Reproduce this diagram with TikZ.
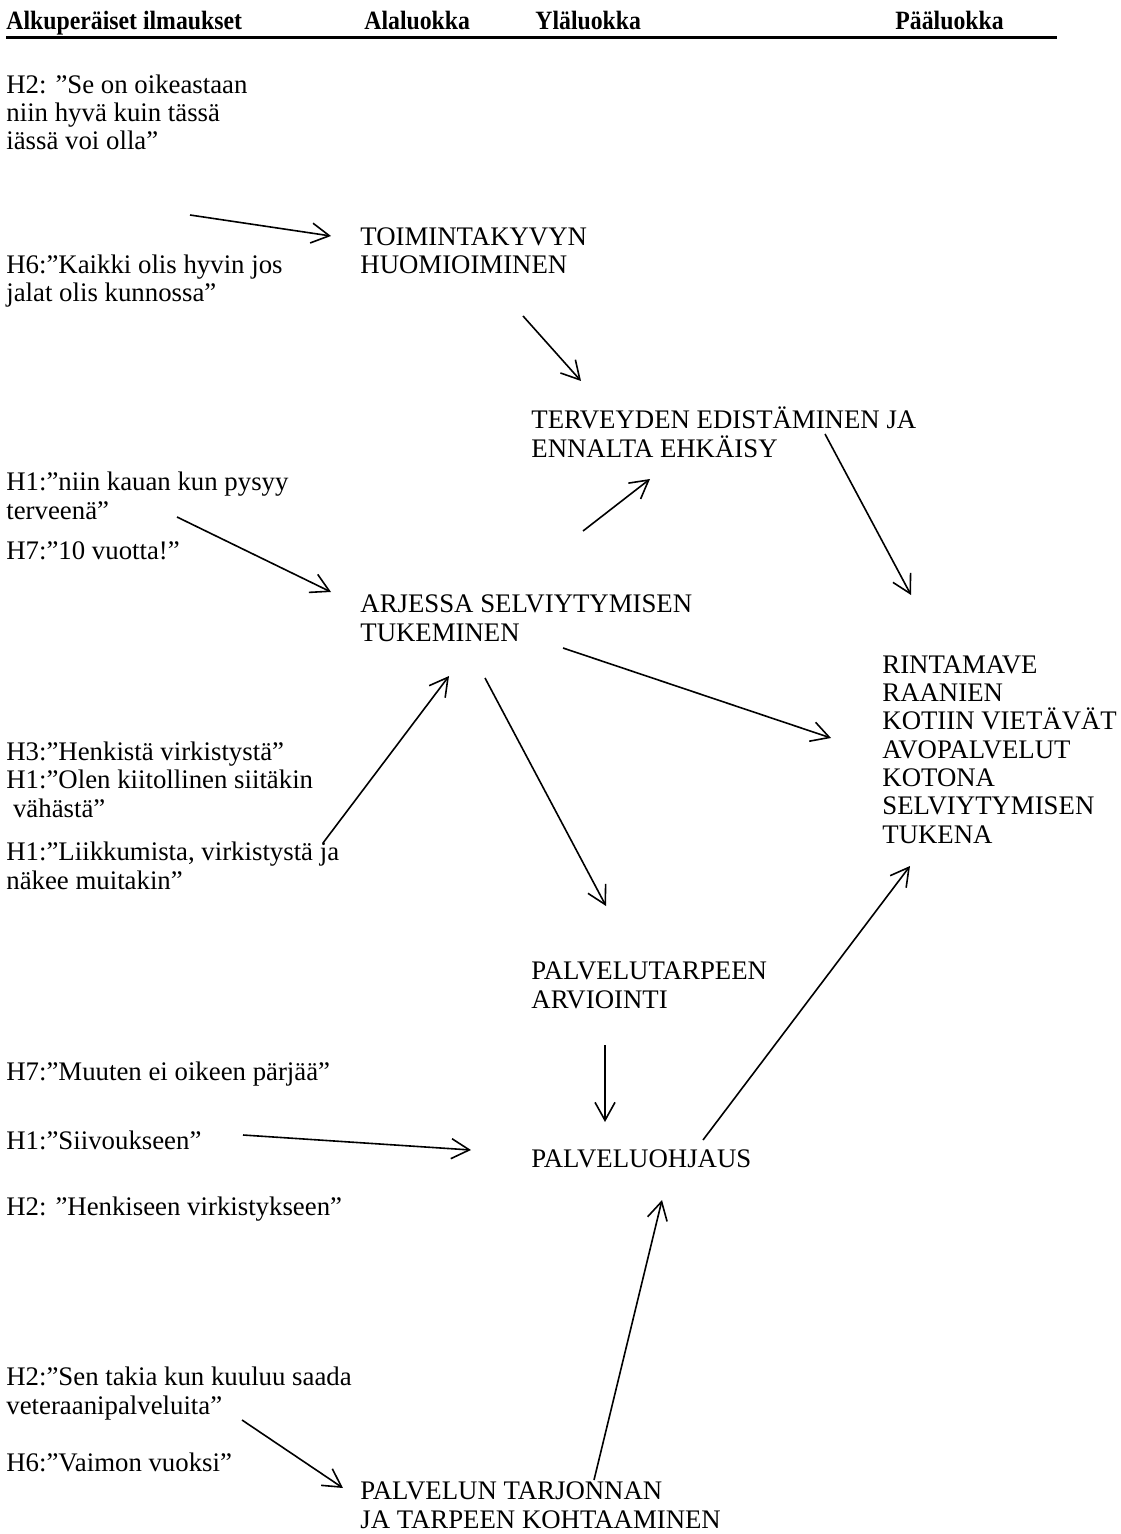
\documentclass[tikz,border=0pt]{standalone}
\usepackage{fontspec}
\setmainfont{Liberation Serif}
\newfontfamily\tekstifont{Liberation Serif}
\newfontfamily\otsikkofont[FakeStretch=0.9]{Liberation Serif}
\usetikzlibrary{arrows.meta}
\tikzstyle{otsikko} = [anchor=base west, inner sep=0pt, font=\otsikkofont\fontsize{13.2}{14.15}\selectfont\bfseries]
\tikzstyle{sitaatti} = [anchor=base west, inner sep=0pt, align=left]
\tikzstyle{luokka} = [anchor=base west, inner sep=0pt, align=left]
\tikzstyle{arrow} = [line width=0.8pt, -{Straight Barb[length=9pt,width=10pt]}]

\begin{document}
\begin{tikzpicture}[x=0.5pt, y=-0.5pt, font=\tekstifont\fontsize{13.4}{14.15}\selectfont]
	\useasboundingbox (0,0) rectangle (1120,1534);
	% otsikot (base = viimeisen rivin perusviiva)
	\node (alk) [otsikko] at (6,30) {Alkuperäiset ilmaukset};
	\node (ala) [otsikko] at (364,30) {Alaluokka};
	\node (yla) [otsikko] at (535,30) {Yläluokka};
	\node (paa) [otsikko] at (895,30) {Pääluokka};
	\draw [line width=1.5pt] (6,38) -- (1057,38);
	% alkuperäiset ilmaukset
	\node (q1) [sitaatti] at (6,150) {H2: ”Se on oikeastaan\\niin hyvä kuin tässä\\iässä voi olla”};
	\node (q2) [sitaatti] at (6,302) {H6:”Kaikki olis hyvin jos\\jalat olis kunnossa”};
	\node (q3) [sitaatti] at (6,519) {H1:”niin kauan kun pysyy\\terveenä”};
	\node (q4) [sitaatti] at (6,559) {H7:”10 vuotta!”};
	\node (q5) [sitaatti] at (6,817) {H3:”Henkistä virkistystä”\\H1:”Olen kiitollinen siitäkin\\\hspace*{0.25em}vähästä”};
	\node (q6) [sitaatti] at (6,889) {H1:”Liikkumista, virkistystä ja\\näkee muitakin”};
	\node (q7) [sitaatti] at (6,1080) {H7:”Muuten ei oikeen pärjää”};
	\node (q8) [sitaatti] at (6,1149) {H1:”Siivoukseen”};
	\node (q9) [sitaatti] at (6,1215) {H2: ”Henkiseen virkistykseen”};
	\node (q10) [sitaatti] at (6,1414) {H2:”Sen takia kun kuuluu saada\\veteraanipalveluita”};
	\node (q11) [sitaatti] at (6,1471) {H6:”Vaimon vuoksi”};
	% luokat
	\node (toim) [luokka] at (360,274) {TOIMINTAKYVYN\\HUOMIOIMINEN};
	\node (terv) [luokka] at (531,457) {TERVEYDEN EDISTÄMINEN JA\\ENNALTA EHKÄISY};
	\node (arj) [luokka] at (360,641) {ARJESSA SELVIYTYMISEN\\TUKEMINEN};
	\node (rint) [luokka] at (882,843) {RINTAMAVE\\RAANIEN\\KOTIIN VIETÄVÄT\\AVOPALVELUT\\KOTONA\\SELVIYTYMISEN\\TUKENA};
	\node (parv) [luokka] at (531,1008) {PALVELUTARPEEN\\ARVIOINTI};
	\node (pohj) [luokka] at (531,1167) {PALVELUOHJAUS};
	\node (ptar) [luokka] at (360,1528) {PALVELUN TARJONNAN\\JA TARPEEN KOHTAAMINEN};
	% nuolten päät
	\coordinate (q2-out) at (190,215);
	\coordinate (toim-in) at (331,236);
	\coordinate (toim-out) at (523,316);
	\coordinate (terv-in) at (581,381);
	\coordinate (arj-up) at (583,531);
	\coordinate (terv-in2) at (650,479);
	\coordinate (terv-out) at (825,434);
	\coordinate (rint-in1) at (911,595);
	\coordinate (q3-out) at (177,517);
	\coordinate (arj-in1) at (331,592);
	\coordinate (arj-out) at (563,648);
	\coordinate (rint-in2) at (831,738);
	\coordinate (q6-out) at (323,843);
	\coordinate (arj-in2) at (449,676);
	\coordinate (arj-down) at (485,678);
	\coordinate (parv-in) at (606,906);
	\coordinate (parv-out) at (605,1045);
	\coordinate (pohj-in1) at (605,1122);
	\coordinate (q8-out) at (243,1135);
	\coordinate (pohj-in2) at (471,1150);
	\coordinate (pohj-out) at (703,1140);
	\coordinate (rint-in3) at (910,866);
	\coordinate (ptar-out) at (594,1480);
	\coordinate (pohj-in3) at (662,1200);
	\coordinate (q10-out) at (242,1420);
	\coordinate (ptar-in) at (343,1488);
	% nuolet
	\draw [arrow] (q2-out) -- (toim-in);
	\draw [arrow] (toim-out) -- (terv-in);
	\draw [arrow] (arj-up) -- (terv-in2);
	\draw [arrow] (terv-out) -- (rint-in1);
	\draw [arrow] (q3-out) -- (arj-in1);
	\draw [arrow] (arj-out) -- (rint-in2);
	\draw [arrow] (q6-out) -- (arj-in2);
	\draw [arrow] (arj-down) -- (parv-in);
	\draw [arrow] (parv-out) -- (pohj-in1);
	\draw [arrow] (q8-out) -- (pohj-in2);
	\draw [arrow] (pohj-out) -- (rint-in3);
	\draw [arrow] (ptar-out) -- (pohj-in3);
	\draw [arrow] (q10-out) -- (ptar-in);
\end{tikzpicture}
\end{document}
